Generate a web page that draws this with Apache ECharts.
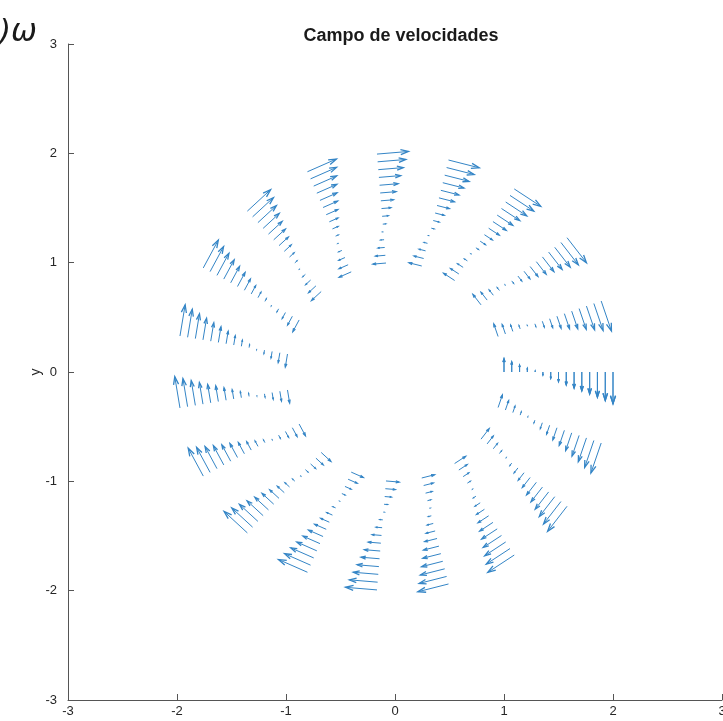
<!DOCTYPE html>
<html>
<head>
<meta charset="utf-8">
<script src="https://cdn.jsdelivr.net/npm/echarts@6/dist/echarts.min.js"></script>
<style>
  html, body { margin: 0; padding: 0; background: #fff; }
  #main { width: 723px; height: 721px; }
</style>
</head>
<body>
<div id="main"></div>
<script>
// polar grid of the quiver plot (theta = linspace(0, 2*pi, 20), r = linspace(1, 2, 15))
var anglesDeg = [0, 18.95, 37.89, 56.84, 75.79, 94.74, 113.68, 132.63, 151.58, 170.53,
                 189.47, 208.42, 227.37, 246.32, 265.26, 284.21, 303.16, 322.11, 341.05, 360];
var radii = [1, 1.071, 1.143, 1.214, 1.286, 1.357, 1.429, 1.5, 1.571, 1.643,
             1.714, 1.786, 1.857, 1.929, 2];
// tangential speed per radius as drawn (positive = counter-clockwise)
var speeds = [0.12, 0.09, 0.06, 0.03, 0.005, -0.025, -0.055, -0.085, -0.115, -0.145,
              -0.17, -0.2, -0.23, -0.26, -0.29];
var xTicks = [-3, -2, -1, 0, 1, 2, 3];
var yTicks = [-3, -2, -1, 0, 1, 2, 3];

var arrowColor = '#3485c6';

// each arrow: [x, y, u, v]
var arrows = [];
anglesDeg.forEach(function (a) {
  var t = a * Math.PI / 180;
  radii.forEach(function (r, j) {
    var s = speeds[j];
    arrows.push([r * Math.cos(t), r * Math.sin(t), -s * Math.sin(t), s * Math.cos(t)]);
  });
});

var chartDom = document.getElementById('main');
var myChart = echarts.init(chartDom);
var option;

var axisCommon = {
  min: -3,
  max: 3,
  interval: 1,
  axisLine: { show: true, onZero: false, lineStyle: { color: '#555', width: 1 } },
  axisTick: { show: true, inside: true, length: 6, lineStyle: { color: '#555' } },
  splitLine: { show: false },
  axisLabel: { color: '#262626', fontSize: 13, fontFamily: 'Liberation Sans' }
};

option = {
  animation: false,
  backgroundColor: '#fff',
  title: {
    text: 'Campo de velocidades',
    left: 396,
    textAlign: 'center',
    top: 22,
    textStyle: { fontSize: 18, fontWeight: 'bold', color: '#1a1a1a', fontFamily: 'Liberation Sans' }
  },
  graphic: [
    {
      type: 'text',
      left: -1,
      top: 17,
      style: { text: ')ω', font: 'italic 31px "DejaVu Sans"', fill: '#1a1a1a' }
    },
    {
      type: 'text',
      x: 36,
      y: 372,
      rotation: Math.PI / 2,
      style: {
        text: 'y', font: '14px "Liberation Sans"', fill: '#262626',
        align: 'center', verticalAlign: 'middle'
      }
    }
  ],
  grid: { left: 68, top: 44, right: 1, bottom: 21, outerBoundsMode: 'none', containLabel: false },
  xAxis: Object.assign({}, axisCommon, {
    type: 'value',
    axisLabel: Object.assign({}, axisCommon.axisLabel, {
      margin: 5,
      formatter: function (v) { return xTicks.indexOf(v) >= 0 ? String(v) : ''; }
    })
  }),
  yAxis: Object.assign({}, axisCommon, {
    type: 'value',
    axisLabel: Object.assign({}, axisCommon.axisLabel, {
      margin: 11,
      formatter: function (v) { return yTicks.indexOf(v) >= 0 ? String(v) : ''; }
    })
  }),
  series: [
    {
      type: 'custom',
      data: arrows,
      clip: false,
      renderItem: function (params, api) {
        var x = api.value(0), y = api.value(1), u = api.value(2), v = api.value(3);
        var p0 = api.coord([x, y]);
        var p1 = api.coord([x + u, y + v]);
        var dx = p1[0] - p0[0], dy = p1[1] - p0[1];
        var len = Math.sqrt(dx * dx + dy * dy);
        if (len < 0.3) {
          return { type: 'circle', shape: { cx: p0[0], cy: p0[1], r: 0.7 }, style: { fill: arrowColor } };
        }
        var ux = dx / len, uy = dy / len;
        var hl = len * 0.25, hw = len * 0.08;
        var bx = p1[0] - ux * hl, by = p1[1] - uy * hl;
        var left = [bx - uy * hw, by + ux * hw];
        var right = [bx + uy * hw, by - ux * hw];
        return {
          type: 'group',
          children: [
            {
              type: 'line',
              shape: { x1: p0[0], y1: p0[1], x2: p1[0], y2: p1[1] },
              style: { stroke: arrowColor, lineWidth: 1 }
            },
            {
              type: 'polyline',
              shape: { points: [left, p1, right] },
              style: { stroke: arrowColor, fill: null, lineWidth: 1.3 }
            }
          ]
        };
      }
    }
  ]
};

option && myChart.setOption(option);
</script>
</body>
</html>
